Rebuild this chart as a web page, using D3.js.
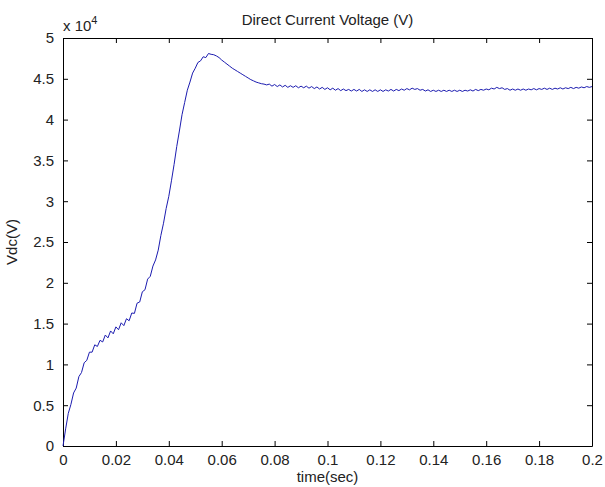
<!DOCTYPE html>
<html>
<head>
<meta charset="utf-8">
<script src="https://cdn.jsdelivr.net/npm/d3@7"></script>
<style>
  body { margin: 0; background: #fff; }
  text { font-family: "Liberation Sans", Arial, sans-serif; fill: #222; }
</style>
</head>
<body>
<script>
// sample interval of the recorded signal (sec)
const sampleStep = 0.001;
// Vdc, one value per sample, in volts
const vdc = [
    0, 2100, 4000, 5100, 6500, 7100, 8500, 9000, 10200, 10500,
    11500, 11500, 12400, 12200, 12950, 12750, 13600, 13250, 14100, 13750,
    14600, 14250, 15100, 14750, 15600, 15350, 16300, 16250, 17500, 17650,
    18900, 19150, 20450, 20800, 22050, 22800, 24000, 25800, 27300, 29100,
    30600, 32500, 34500, 36700, 38600, 40600, 42100, 43600, 44600, 45700,
    46300, 47000, 47200, 47700, 47600, 48100, 48000, 47950, 47800, 47600,
    47300, 47050, 46800, 46550, 46300, 46100, 45900, 45700, 45500, 45300,
    45100, 44900, 44750, 44600, 44500, 44400, 44350, 44250, 44350, 44100,
    44300, 44050, 44250, 44000, 44200, 43950, 44150, 43950, 44150, 43900,
    44100, 43900, 44100, 43850, 44050, 43800, 44000, 43750, 43950, 43700,
    43900, 43650, 43850, 43600, 43800, 43550, 43750, 43550, 43700, 43500,
    43700, 43500, 43700, 43450, 43650, 43450, 43650, 43450, 43650, 43450,
    43650, 43450, 43650, 43500, 43700, 43500, 43700, 43550, 43750, 43600,
    43800, 43650, 43850, 43700, 43800, 43600, 43700, 43500, 43650, 43450,
    43600, 43450, 43600, 43450, 43600, 43450, 43600, 43450, 43600, 43450,
    43600, 43450, 43600, 43500, 43650, 43500, 43700, 43550, 43700, 43600,
    43750, 43650, 43850, 43750, 43950, 43800, 43900, 43700, 43800, 43600,
    43750, 43600, 43750, 43600, 43750, 43600, 43750, 43650, 43800, 43650,
    43800, 43700, 43850, 43700, 43850, 43700, 43850, 43750, 43900, 43750,
    43900, 43800, 43950, 43800, 43950, 43850, 44000, 43900, 44050, 43950,
    44050
];
const xTicks = [0, 0.02, 0.04, 0.06, 0.08, 0.1, 0.12, 0.14, 0.16, 0.18, 0.2];
const yTicks = [0, 5000, 10000, 15000, 20000, 25000, 30000, 35000, 40000, 45000, 50000];
const yExponent = 4;

var w = 605, h = 487;
var margin = {top: 38, right: 13, bottom: 41, left: 63};
var iw = w - margin.left - margin.right;
var ih = h - margin.top - margin.bottom;

var xScale = d3.scaleLinear().domain([0, 0.2]).range([0, iw]);
var yScale = d3.scaleLinear().domain([0, 50000]).range([ih, 0]);

let svg = d3.select("body")
    .append("svg")
    .attr("width", w)
    .attr("height", h);

let g = svg.append("g")
    .attr("transform", "translate(" + margin.left + "," + margin.top + ")");

var fmtY = function (d) { return String(d / Math.pow(10, yExponent)); };

// bottom / top axes, ticks pointing inward
g.append("g")
    .attr("class", "axis")
    .attr("transform", "translate(0," + ih + ")")
    .call(d3.axisBottom(xScale).tickValues(xTicks).tickSizeInner(-5).tickSizeOuter(0).tickPadding(8).tickFormat(d3.format("")))
g.append("g")
    .attr("class", "axis")
    .call(d3.axisTop(xScale).tickValues(xTicks).tickSizeInner(-5).tickSizeOuter(0).tickFormat(""))
// left / right axes
g.append("g")
    .attr("class", "axis")
    .call(d3.axisLeft(yScale).tickValues(yTicks).tickSizeInner(-5).tickSizeOuter(0).tickPadding(9).tickFormat(fmtY))
g.append("g")
    .attr("class", "axis")
    .attr("transform", "translate(" + iw + ",0)")
    .call(d3.axisRight(yScale).tickValues(yTicks).tickSizeInner(-5).tickSizeOuter(0).tickFormat(""))

g.selectAll(".axis path").attr("stroke", "#000");
g.selectAll(".axis line").attr("stroke", "#000");
g.selectAll(".axis text")
    .attr("font-family", "'Liberation Sans', Arial, sans-serif")
    .attr("font-size", "15px")
    .attr("fill", "#222");

var line = d3.line()
    .x(function (d, i) { return xScale(i * sampleStep); })
    .y(function (d) { return yScale(d); });

g.append("path")
    .datum(vdc)
    .attr("fill", "none")
    .attr("stroke", "#1c1cb0")
    .attr("stroke-width", 1)
    .attr("d", line);

// title and labels
svg.append("text")
    .attr("x", margin.left + iw / 2)
    .attr("y", 25)
    .attr("text-anchor", "middle")
    .attr("font-size", "15px")
    .text("Direct Current Voltage (V)");

svg.append("text")
    .attr("x", margin.left + iw / 2)
    .attr("y", 482)
    .attr("text-anchor", "middle")
    .attr("font-size", "15px")
    .text("time(sec)");

svg.append("text")
    .attr("transform", "translate(17," + (margin.top + ih / 2) + ") rotate(-90)")
    .attr("text-anchor", "middle")
    .attr("font-size", "15px")
    .text("Vdc(V)");

// exponent label
var ex = svg.append("text")
    .attr("x", margin.left)
    .attr("y", 31)
    .attr("font-size", "15px");
ex.append("tspan").text("x 10");
ex.append("tspan").attr("dy", -7).attr("font-size", "11px").text(yExponent);
</script>
</body>
</html>
